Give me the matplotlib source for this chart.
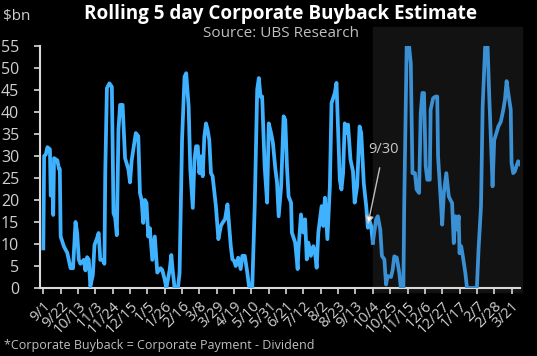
import matplotlib
matplotlib.use("Agg")
import matplotlib.pyplot as plt
import matplotlib.dates as mdates
import pandas as pd

# days since 9/1/2019 and rolling 5 day buyback estimate ($bn)
actual_days = [0, 1, 3, 5, 8, 9, 11, 12, 13, 17, 19, 20, 21, 25, 29, 33, 36, 39, 41, 43,
               45, 49, 51, 53, 55, 57, 60, 62, 65, 67, 69, 72, 74, 75, 77, 80, 83, 85, 87, 89,
               91, 93, 96, 99, 103, 105, 107, 112, 115, 117, 119, 121, 123, 125, 127, 129, 132, 135, 138, 142,
               144, 147, 149, 153, 155, 157, 159, 163, 165, 168, 171, 173, 176, 178, 181, 183, 185, 187, 189, 191,
               193, 195, 197, 199, 201, 203, 205, 209, 212, 215, 217, 220, 223, 225, 227, 229, 231, 233, 236, 239,
               241, 244, 247, 249, 253, 256, 259, 261, 263, 265, 268, 271, 273, 276, 278, 281, 283, 285, 288, 291,
               293, 295, 297, 300, 301, 305, 308, 309, 312, 315, 317, 319, 321, 324, 327, 329, 331, 333, 337, 339,
               341, 344, 347, 349, 353, 355, 357, 359, 361, 363, 365, 367, 369, 372, 375, 377, 380, 383, 385, 388,
               391, 393, 395, 397, 399]
actual_vals = [9, 30, 30.3, 32, 31.5, 21, 23.8, 16.6, 29.5, 29, 27, 27, 11.7, 9.4, 8, 4.5, 4.5, 15, 12.5, 6.4,
               5.5, 6.4, 4, 7, 6.5, 0.4, 3, 9.8, 11.3, 12.5, 6.4, 6.4, 5.5, 26, 45.4, 46.5, 45.7, 17, 16, 12,
               36, 41.6, 41.6, 29.5, 27, 24, 29, 35.2, 34.5, 21.6, 20, 14.8, 20, 19.3, 11.7, 13.6, 6.4, 11.7, 3.5, 4.5,
               4.1, 1.9, 0, 4.1, 7.5, 3.4, 0, 0, 3.4, 33.7, 48, 48.8, 41.2, 26.9, 18.2, 29.1, 32.2, 32.2, 26.1, 29.9,
               25.4, 34.4, 37.4, 35.9, 33.6, 26.1, 25.4, 18.6, 11.1, 14.1, 14.8, 15.6, 19, 14.1, 9.5, 6.5, 6.2, 5, 6.9, 4.3,
               7.3, 7.3, 3.5, 0.5, 0, 18.6, 45.1, 47.7, 43.5, 43.5, 27.7, 19.4, 37.4, 35, 33, 27, 24, 16.3, 23.1, 39,
               38.2, 27.7, 20.8, 19.4, 12.6, 10.3, 4.3, 8.8, 16.7, 12.6, 15.6, 6.5, 10.3, 7.3, 9.5, 8, 4.6, 12.6, 18.6, 14.1,
               20.5, 11.1, 23.1, 42, 44.3, 46.6, 35.9, 24.6, 22.4, 26.1, 37.4, 35.2, 37.1, 29.1, 26.5, 19.4, 23.1, 36.7, 35.2, 23.9,
               18.6, 13.7, 15.2, 14.1, 10.3]

forecast_days = [399, 403, 405, 408, 410, 413, 415, 417, 421, 423, 425, 428, 431, 433, 436, 437, 440, 443, 445, 447,
                 450, 452, 455, 457, 459, 461, 463, 465, 468, 469, 472, 475, 477, 478, 480, 483, 485, 488, 491, 493,
                 495, 497, 499, 501, 503, 504, 506, 508, 511, 513, 525, 527, 530, 532, 535, 538, 540, 542, 544, 546,
                 548, 551, 554, 557, 559, 561, 563, 566, 567, 569, 571, 573, 575, 578]
forecast_vals = [10.3, 15.6, 16.3, 13.3, 7.3, 6.5, 0.8, 2.7, 2.5, 4.1, 7.2, 6.9, 3.5, 0, 0, 18.6, 54.8, 54.8, 51, 26.1,
                 26.1, 22.4, 21.6, 39.7, 44.3, 44.3, 27.7, 24.6, 24.6, 40.5, 43.1, 43.5, 43.5, 29.9, 23.9, 14.4, 21.6, 26.1, 20.8, 20,
                 19.3, 10.2, 16.3, 13.3, 16.3, 7.9, 9.5, 7.2, 3.5, 0, 0, 8.7, 18.6, 41.2, 54.8, 54.8, 43.5, 33.6, 23.1, 33.6,
                 34.8, 36.7, 37.8, 40.5, 42.8, 47, 44.3, 40.5, 28.4, 26.1, 26.5, 27.7, 28.8, 28]

start = pd.Timestamp("2019-09-01")
actual_dates = start + pd.to_timedelta(actual_days, unit="D")
forecast_dates = start + pd.to_timedelta(forecast_days, unit="D")
tick_dates = pd.date_range("2019-09-01", periods=28, freq="21D")
split_date = start + pd.Timedelta(days=399)
note_date = pd.Timestamp("2020-09-28")

plt.rcParams['font.family'] = ['Open Sans', 'DejaVu Sans']

fig = plt.figure(figsize=(5.37, 3.56), dpi=100, facecolor='black')
ax = fig.add_axes([0.0745, 0.191, 0.8935, 0.68])
ax.set_facecolor('black')

# shaded forecast area
ax.axvspan(split_date, start + pd.Timedelta(days=580), ymin=-0.017, ymax=1.08,
           color='#121212', zorder=0, clip_on=False)

ax.plot(actual_dates, actual_vals, color='#3fb2ff', lw=2.7, zorder=3)
ax.plot(forecast_dates, forecast_vals, color='#3a90d2', lw=2.7, zorder=3)

ax.annotate('9/30', xy=(note_date, 14.4), xytext=(start + pd.Timedelta(days=412), 31.5),
            color='#c8c8c8', fontsize=10.5, ha='center', va='center',
            arrowprops=dict(arrowstyle='-|>', color='#bfbfbf', lw=1, mutation_scale=12,
                            fc='white', shrinkA=6, shrinkB=0), zorder=5)

ax.set_ylim(0, 55)
ax.set_yticks(range(0, 56, 5))
ax.set_xlim(start - pd.Timedelta(days=4), start + pd.Timedelta(days=577))
ax.set_xticks(tick_dates)
ax.xaxis.set_major_formatter(mdates.DateFormatter('%-m/%-d'))

for s in ['top', 'right']:
    ax.spines[s].set_visible(False)
for s in ['left', 'bottom']:
    ax.spines[s].set_color('#d9d9d9')
    ax.spines[s].set_linewidth(1.5)
ax.tick_params(colors='#d9d9d9', labelcolor='#d0d0d0', labelsize=10.5, width=1.2, length=4)
ax.tick_params(axis='y', pad=11, labelsize=11.5)
plt.setp(ax.get_xticklabels(), rotation=45, ha='right', rotation_mode='anchor')

fig.text(0.522, 0.962, 'Rolling 5 day Corporate Buyback Estimate', color='white',
         fontsize=13.6, fontweight='bold', ha='center', va='center')
fig.text(0.524, 0.905, 'Source: UBS Research', color='#bfbfbf', fontsize=11,
         ha='center', va='center')
fig.text(0.005, 0.955, '$bn', color='#cfcfcf', fontsize=11, ha='left', va='center')
fig.text(0.008, 0.03, '*Corporate Buyback = Corporate Payment - Dividend', color='#bfbfbf',
         fontsize=9, ha='left', va='center')

plt.savefig('out.png', dpi=100, facecolor='black')
